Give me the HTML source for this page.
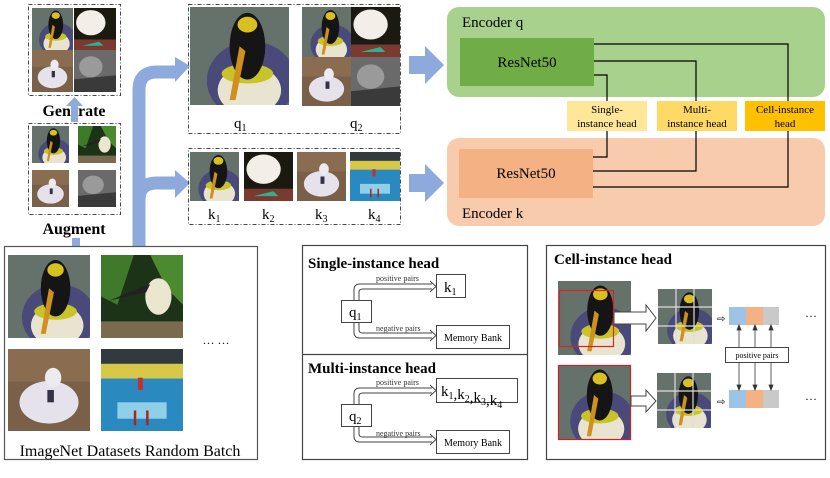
<!DOCTYPE html>
<html><head><meta charset="utf-8"><style>
html,body{margin:0;padding:0;background:#fff;}
svg{display:block;font-family:"Liberation Serif",serif;}
</style></head><body>
<svg width="830" height="478" viewBox="0 0 830 478" xmlns="http://www.w3.org/2000/svg">
<defs>
<symbol id="peng" viewBox="0 0 100 100" preserveAspectRatio="none">
<rect width="100" height="100" fill="#6f7a78"/>
<rect width="100" height="100" fill="#5b6a60" opacity="0.5"/>
<ellipse cx="62" cy="75" rx="45" ry="40" fill="#4a4a7a"/>
<ellipse cx="60" cy="85" rx="32" ry="25" fill="#e8e4d0"/>
<ellipse cx="58" cy="68" rx="26" ry="10" fill="#c9c32a"/>
<ellipse cx="58" cy="40" rx="18" ry="34" fill="#151515"/>
<ellipse cx="58" cy="18" rx="10" ry="8" fill="#d8c020"/>
<path d="M50 40 L40 95 L46 95 L56 45Z" fill="#d09020"/>
</symbol>
<symbol id="touc" viewBox="0 0 100 100" preserveAspectRatio="none">
<rect width="100" height="100" fill="#1c3318"/>
<path d="M0 0 L40 0 L20 60 L0 50Z" fill="#3f7a2a"/>
<path d="M60 0 L100 0 L100 60 L80 40Z" fill="#4c8a30"/>
<rect y="80" width="100" height="20" fill="#7a6a50"/>
<ellipse cx="70" cy="50" rx="16" ry="22" fill="#eae6d0"/>
<path d="M60 35 L10 55 L55 45Z" fill="#222"/>
</symbol>
<symbol id="cock" viewBox="0 0 100 100" preserveAspectRatio="none">
<rect width="100" height="100" fill="#7a6048"/>
<rect y="0" width="100" height="40" fill="#8a6c50"/>
<ellipse cx="50" cy="65" rx="36" ry="26" fill="#e6e2ec"/>
<ellipse cx="55" cy="35" rx="10" ry="12" fill="#ecebf0"/>
<rect x="48" y="50" width="8" height="15" fill="#334"/>
</symbol>
<symbol id="pool" viewBox="0 0 100 100" preserveAspectRatio="none">
<rect width="100" height="100" fill="#2a8ac0"/>
<rect width="100" height="22" fill="#303a40"/>
<rect y="18" width="100" height="18" fill="#d8c848"/>
<rect x="20" y="65" width="60" height="20" fill="#8fd0e8"/>
<rect x="45" y="35" width="6" height="15" fill="#c03030"/>
<rect x="40" y="75" width="3" height="18" fill="#b02020"/>
<rect x="55" y="75" width="3" height="18" fill="#b02020"/>
</symbol>
<symbol id="gray" viewBox="0 0 100 100" preserveAspectRatio="none">
<rect width="100" height="100" fill="#6a6a6a"/>
<ellipse cx="40" cy="40" rx="28" ry="25" fill="#9a9a9a"/>
<path d="M0 70 L100 60 L100 100 L0 100Z" fill="#3a3a3a"/>
</symbol>
<symbol id="toucw" viewBox="0 0 100 100" preserveAspectRatio="none">
<rect width="100" height="100" fill="#1a1a10"/>
<ellipse cx="40" cy="35" rx="35" ry="30" fill="#f4eee8"/>
<rect y="75" width="100" height="25" fill="#7a3a30"/>
<path d="M20 90 L60 80 L70 90Z" fill="#30b090"/>
</symbol>
</defs>

<!-- Generate box -->
<rect x="28.5" y="4.5" width="92" height="91" fill="none" stroke="#444" stroke-dasharray="4,2,1,2"/>
<use href="#peng" x="32" y="8" width="41" height="42"/>
<use href="#toucw" x="74" y="8" width="42" height="42"/>
<use href="#cock" x="32" y="50" width="41" height="42"/>
<use href="#gray" x="74" y="50" width="42" height="42"/>
<text x="74" y="116" text-anchor="middle" font-size="16" font-weight="bold">Generate</text>
<rect x="71" y="104" width="7" height="18" fill="#8eaadc"/>
<polygon points="66,106 74.5,97 83,106" fill="#8eaadc"/>

<!-- Augment box -->
<rect x="28.5" y="123.5" width="92" height="91" fill="none" stroke="#444" stroke-dasharray="4,2,1,2"/>
<use href="#peng" x="32" y="126" width="37" height="37"/>
<use href="#touc" x="78" y="126" width="38" height="37"/>
<use href="#cock" x="32" y="170" width="37" height="37"/>
<use href="#gray" x="78" y="170" width="38" height="37"/>
<text x="74" y="234" text-anchor="middle" font-size="16" font-weight="bold">Augment</text>
<rect x="72" y="238" width="8" height="8" fill="#8eaadc"/>
<polygon points="66,240 76,229 86,240" fill="#8eaadc" opacity="0"/>

<!-- Big curved arrow -->
<path d="M139 246 L139 90 Q139 72 157 72 L178 72" fill="none" stroke="#8eaadc" stroke-width="13"/>
<path d="M139 200 Q139 183 157 183 L178 183" fill="none" stroke="#8eaadc" stroke-width="13"/>
<polygon points="175,57 190,66 175,82" fill="#8eaadc"/>
<polygon points="175,170 190,183 175,198" fill="#8eaadc"/>

<!-- Bottom-left batch -->
<rect x="4.5" y="246.5" width="253" height="213" fill="none" stroke="#555" stroke-width="1.2"/>
<use href="#peng" x="8" y="255" width="82" height="83"/>
<use href="#touc" x="101" y="255" width="82" height="83"/>
<use href="#cock" x="8" y="349" width="82" height="82"/>
<use href="#pool" x="101" y="349" width="82" height="82"/>
<text x="216" y="347" text-anchor="middle" font-size="12">··· ···</text>
<text x="130" y="456" text-anchor="middle" font-size="16">ImageNet Datasets Random Batch</text>

<!-- q box -->
<rect x="188.5" y="4.5" width="212" height="129" fill="none" stroke="#444" stroke-dasharray="4,2,1,2"/>
<use href="#peng" x="190" y="7" width="99" height="98"/>
<use href="#peng" x="302" y="7" width="49" height="50"/>
<use href="#toucw" x="351" y="7" width="49" height="50"/>
<use href="#cock" x="302" y="57" width="49" height="49"/>
<use href="#gray" x="351" y="57" width="49" height="49"/>
<text x="234" y="128" font-size="15">q<tspan font-size="10" dy="3">1</tspan></text>
<text x="350" y="128" font-size="15">q<tspan font-size="10" dy="3">2</tspan></text>

<!-- k box -->
<rect x="188.5" y="148.5" width="212" height="76" fill="none" stroke="#444" stroke-dasharray="4,2,1,2"/>
<use href="#peng" x="190" y="152" width="49" height="49"/>
<use href="#toucw" x="244" y="152" width="49" height="49"/>
<use href="#cock" x="297" y="152" width="49" height="49"/>
<use href="#pool" x="350" y="152" width="50" height="49"/>
<text x="208" y="219" font-size="15">k<tspan font-size="10" dy="3">1</tspan></text>
<text x="262" y="219" font-size="15">k<tspan font-size="10" dy="3">2</tspan></text>
<text x="315" y="219" font-size="15">k<tspan font-size="10" dy="3">3</tspan></text>
<text x="368" y="219" font-size="15">k<tspan font-size="10" dy="3">4</tspan></text>

<!-- block arrows -->
<polygon points="409,56 425,56 425,46 444,65 425,84 425,74 409,74" fill="#8eaadc"/>
<polygon points="409,174 425,174 425,164 444,183 425,202 425,192 409,192" fill="#8eaadc"/>

<!-- Encoders -->
<rect x="447" y="7" width="378" height="90" rx="12" fill="#a9d18e"/>
<text x="462" y="27" font-size="15">Encoder q</text>
<rect x="460" y="38" width="134" height="48" fill="#70ad47"/>
<text x="527" y="67" text-anchor="middle" font-size="15">ResNet50</text>
<rect x="447" y="138" width="378" height="88" rx="12" fill="#f8cbad"/>
<text x="462" y="218" font-size="15">Encoder k</text>
<rect x="459" y="149" width="134" height="49" fill="#f4b183"/>
<text x="526" y="178" text-anchor="middle" font-size="15">ResNet50</text>

<rect x="567" y="101" width="80" height="30" fill="#ffe699"/>
<rect x="657" y="101" width="80" height="30" fill="#ffd966"/>
<rect x="745" y="101" width="80" height="30" fill="#ffc000"/>
<g fill="none" stroke="#000" stroke-width="1.2">
<path d="M594 44 H788 V101"/>
<path d="M594 61 H696 V101"/>
<path d="M594 75 H607 V101"/>
<path d="M593 157 H607 V131"/>
<path d="M593 171 H696 V131"/>
<path d="M593 187 H788 V131"/>
</g>
<g font-size="11" text-anchor="middle">
<text x="607" y="113">Single-</text><text x="607" y="127">instance head</text>
<text x="697" y="113">Multi-</text><text x="697" y="127">instance head</text>
<text x="785" y="113">Cell-instance</text><text x="785" y="127">head</text>
</g>

<!-- Single/Multi heads -->
<rect x="302.5" y="245.5" width="225" height="214" fill="none" stroke="#444" stroke-width="1.2"/>
<line x1="302" y1="354.5" x2="528" y2="354.5" stroke="#444" stroke-width="1.2"/>
<text x="308" y="268" font-size="15" font-weight="bold">Single-instance head</text>
<text x="308" y="373" font-size="15" font-weight="bold">Multi-instance head</text>
<g fill="none" stroke="#444" stroke-width="1">
<path d="M354 300 V290 Q354 284 360 284 H432"/><path d="M359 300 V292 Q359 289 363 289 H432"/>
<path d="M430 281 L436 286.5 L430 292"/>
<path d="M354 322 V332 Q354 338 360 338 H432"/><path d="M359 322 V330 Q359 333 363 333 H432"/>
<path d="M430 330 L436 335.5 L430 341"/>
<path d="M354 404 V394 Q354 388 360 388 H432"/><path d="M359 404 V396 Q359 393 363 393 H432"/>
<path d="M430 385 L436 390.5 L430 396"/>
<path d="M354 425 V436 Q354 442 360 442 H432"/><path d="M359 425 V434 Q359 437 363 437 H432"/>
<path d="M430 434 L436 439.5 L430 445"/>
</g>
<g fill="#fff" stroke="#444" stroke-width="1">
<rect x="436.5" y="274.5" width="29" height="23"/>
<rect x="341.5" y="300.5" width="30" height="22"/>
<rect x="436.5" y="325.5" width="73" height="23"/>
<rect x="436.5" y="378.5" width="81" height="24"/>
<rect x="341.5" y="404.5" width="30" height="22"/>
<rect x="436.5" y="430.5" width="73" height="23"/>
</g>
<g font-size="8" fill="#333">
<text x="376" y="281">positive pairs</text><text x="376" y="331">negative pairs</text>
<text x="376" y="385">positive pairs</text><text x="376" y="436">negative pairs</text>
</g>
<text x="444" y="292" font-size="15">k<tspan font-size="10" dy="3">1</tspan></text>
<text x="349" y="317" font-size="15">q<tspan font-size="10" dy="3">1</tspan></text>
<text x="473" y="341" text-anchor="middle" font-size="10">Memory Bank</text>
<text x="441" y="396" font-size="15">k<tspan font-size="10" dy="3">1</tspan>,k<tspan font-size="10" dy="3">2</tspan>,k<tspan font-size="10" dy="3">3</tspan>,k<tspan font-size="10" dy="3">4</tspan></text>
<text x="349" y="421" font-size="15">q<tspan font-size="10" dy="3">2</tspan></text>
<text x="473" y="446" text-anchor="middle" font-size="10">Memory Bank</text>

<!-- Cell-instance head -->
<rect x="546.5" y="245.5" width="279" height="214" fill="none" stroke="#444" stroke-width="1.2"/>
<text x="554" y="264" font-size="15" font-weight="bold">Cell-instance head</text>
<use href="#peng" x="558" y="281" width="73" height="74"/>
<rect x="559.5" y="290.5" width="54" height="56" fill="none" stroke="#e02020" stroke-width="1.2"/>
<use href="#peng" x="558" y="365" width="72" height="75"/>
<rect x="558.5" y="365.5" width="72" height="74" fill="none" stroke="#d02020" stroke-width="1.2"/>
<polygon points="614,312 646,312 646,305 656,318 646,331 646,324 614,324" fill="#fff" stroke="#444"/>
<polygon points="631,396 646,396 646,390 656,401 646,412 646,406 631,406" fill="#fff" stroke="#444"/>
<use href="#peng" x="658" y="289" width="54" height="55"/>
<use href="#peng" x="657" y="373" width="54" height="55"/>
<g stroke="#ddd" stroke-width="1.2">
<line x1="676" y1="289" x2="676" y2="344"/><line x1="694" y1="289" x2="694" y2="344"/>
<line x1="658" y1="307" x2="712" y2="307"/><line x1="658" y1="326" x2="712" y2="326"/>
<line x1="675" y1="373" x2="675" y2="428"/><line x1="693" y1="373" x2="693" y2="428"/>
<line x1="657" y1="391" x2="711" y2="391"/><line x1="657" y1="410" x2="711" y2="410"/>
</g>
<text x="717" y="322" font-size="10">⇨</text>
<text x="717" y="405" font-size="10">⇨</text>
<rect x="729" y="307" width="17" height="18" fill="#9dc3e6"/><rect x="746" y="307" width="17" height="18" fill="#f4b183"/><rect x="763" y="307" width="16" height="18" fill="#c9c9c9"/>
<rect x="729" y="390" width="17" height="18" fill="#9dc3e6"/><rect x="746" y="390" width="17" height="18" fill="#f4b183"/><rect x="763" y="390" width="16" height="18" fill="#c9c9c9"/>
<text x="805" y="320" font-size="12">···</text>
<text x="805" y="403" font-size="12">···</text>
<g stroke="#333" stroke-width="0.8" fill="#333">
<line x1="739" y1="327" x2="739" y2="388"/><line x1="755" y1="327" x2="755" y2="388"/><line x1="771" y1="327" x2="771" y2="388"/>
<polygon points="737,330 739,325 741,330"/><polygon points="753,330 755,325 757,330"/><polygon points="769,330 771,325 773,330"/>
<polygon points="737,385 739,390 741,385"/><polygon points="753,385 755,390 757,385"/><polygon points="769,385 771,390 773,385"/>
</g>
<rect x="725.5" y="347.5" width="63" height="15" fill="#fff" stroke="#444"/>
<text x="757" y="358" text-anchor="middle" font-size="8">positive pairs</text>
</svg>
</body></html>
